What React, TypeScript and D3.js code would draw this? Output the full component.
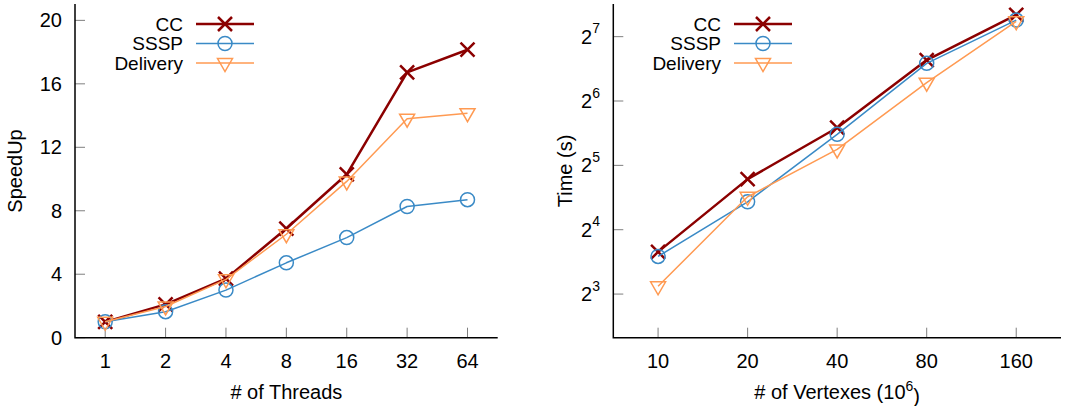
import { useEffect, useRef } from 'react'
import * as d3 from 'd3'

const WIDTH = 1067
const HEIGHT = 406
const FONT = '"Liberation Sans", Arial, Helvetica, sans-serif'

// left panel: speedup vs threads
const threads = ['1', '2', '4', '8', '16', '32', '64']
const ccSpeedup = [1.0, 2.1, 3.72, 6.88, 10.3, 16.72, 18.15]
const ssspSpeedup = [1.0, 1.64, 3.0, 4.72, 6.31, 8.27, 8.7]
const deliverySpeedup = [1.0, 1.97, 3.68, 6.52, 9.85, 13.8, 14.15]
const speedupTicks = [0, 4, 8, 12, 16, 20]

// right panel: time vs vertexes (log2 axis)
const vertexes = ['10', '20', '40', '80', '160']
const ccTime = [12.6, 27.6, 48, 99.5, 162]
const ssspTime = [12.0, 21.6, 44.7, 96, 153]
const deliveryTime = [8.7, 22.8, 38, 78, 151]
const timeExponents = [3, 4, 5, 6, 7]

const seriesNames = ['CC', 'SSSP', 'Delivery']
const seriesColors = ['#8b0000', '#3a8ac6', '#ff9a52']
const seriesWidths = [2.5, 1.5, 1.5]
const seriesMarkers = ['x', 'circle', 'triangle']

const PLOT_TOP = 4
const PLOT_BOTTOM = 337.7
const TICK_LEN = 10

function drawMarker(g, kind, x, y, color, width) {
  if (kind === 'x') {
    g.append('path')
      .attr('d', `M${x - 7},${y - 7}L${x + 7},${y + 7}M${x - 7},${y + 7}L${x + 7},${y - 7}`)
      .attr('stroke', color)
      .attr('stroke-width', width)
      .attr('fill', 'none')
  } else if (kind === 'circle') {
    g.append('circle')
      .attr('cx', x).attr('cy', y).attr('r', 7)
      .attr('stroke', color)
      .attr('stroke-width', width)
      .attr('fill', 'none')
  } else {
    g.append('path')
      .attr('d', `M${x - 7.5},${y - 4.5}L${x + 7.5},${y - 4.5}L${x},${y + 8.5}Z`)
      .attr('stroke', color)
      .attr('stroke-width', width)
      .attr('fill', 'none')
  }
}

function drawPanel(svg, opts) {
  const { left, right, cats, values, y, yTicks, yTickLabel, xTitle, yTitle, yTitleX, legendTextX } = opts
  const g = svg.append('g')

  const x = d3.scalePoint().domain(cats).range([left, right]).padding(0.5)

  // ticks (inward, grey)
  yTicks.forEach(t => {
    g.append('line')
      .attr('x1', left).attr('x2', left + TICK_LEN)
      .attr('y1', y(t)).attr('y2', y(t))
      .attr('stroke', '#7f7f7f').attr('stroke-width', 1)
    yTickLabel(g.append('text')
      .attr('x', left - 13)
      .attr('y', y(t))
      .attr('dy', '0.35em')
      .attr('text-anchor', 'end'), t)
  })
  cats.forEach(c => {
    g.append('line')
      .attr('x1', x(c)).attr('x2', x(c))
      .attr('y1', PLOT_BOTTOM).attr('y2', PLOT_BOTTOM - TICK_LEN)
      .attr('stroke', '#7f7f7f').attr('stroke-width', 1)
    g.append('text')
      .attr('x', x(c))
      .attr('y', 360.5)
      .attr('dy', '0.35em')
      .attr('text-anchor', 'middle')
      .text(c)
  })

  // axes (left + bottom only)
  g.append('path')
    .attr('d', `M${left},${PLOT_TOP}L${left},${PLOT_BOTTOM}L${right},${PLOT_BOTTOM}`)
    .attr('stroke', '#000').attr('stroke-width', 1.5).attr('fill', 'none')

  // titles
  xTitle(g.append('text')
    .attr('x', (left + right) / 2)
    .attr('y', 392)
    .attr('dy', '0.35em')
    .attr('text-anchor', 'middle'))
  g.append('text')
    .attr('transform', `translate(${yTitleX},171) rotate(-90)`)
    .attr('dy', '0.35em')
    .attr('text-anchor', 'middle')
    .text(yTitle)

  // series
  const line = d3.line().x((d, i) => x(cats[i])).y(d => y(d))
  values.forEach((vals, s) => {
    g.append('path')
      .attr('d', line(vals))
      .attr('stroke', seriesColors[s])
      .attr('stroke-width', seriesWidths[s])
      .attr('stroke-linejoin', 'round')
      .attr('fill', 'none')
    vals.forEach((v, i) => drawMarker(g, seriesMarkers[s], x(cats[i]), y(v), seriesColors[s], seriesWidths[s]))
  })

  // legend
  const rowY = [24, 43.5, 63]
  seriesNames.forEach((name, s) => {
    g.append('text')
      .attr('x', legendTextX)
      .attr('y', rowY[s])
      .attr('dy', '0.35em')
      .attr('font-size', 19)
      .attr('text-anchor', 'end')
      .text(name)
    g.append('line')
      .attr('x1', legendTextX + 13).attr('x2', legendTextX + 71)
      .attr('y1', rowY[s]).attr('y2', rowY[s])
      .attr('stroke', seriesColors[s])
      .attr('stroke-width', seriesWidths[s])
    drawMarker(g, seriesMarkers[s], legendTextX + 42, rowY[s], seriesColors[s], seriesWidths[s])
  })
}

export default function App() {
  const svgRef = useRef(null)

  useEffect(() => {
    if (!svgRef.current) return
    document.body.style.margin = '0'

    const svg = d3.select(svgRef.current)
    svg.selectAll('*').remove()
    svg.append('rect').attr('width', WIDTH).attr('height', HEIGHT).attr('fill', '#fff')

    const ySpeed = d3.scaleLinear().domain([0, 21]).range([PLOT_BOTTOM, PLOT_TOP + 0.5])
    drawPanel(svg, {
      left: 75,
      right: 497.7,
      cats: threads,
      values: [ccSpeedup, ssspSpeedup, deliverySpeedup],
      y: ySpeed,
      yTicks: speedupTicks,
      yTickLabel: (t, v) => t.text(v),
      xTitle: t => t.text('# of Threads'),
      yTitle: 'SpeedUp',
      yTitleX: 15,
      legendTextX: 183,
    })

    const yTime = d3.scaleLog().base(2).domain([5, 181]).range([PLOT_BOTTOM, PLOT_TOP + 0.5])
    drawPanel(svg, {
      left: 613.3,
      right: 1061,
      cats: vertexes,
      values: [ccTime, ssspTime, deliveryTime],
      y: yTime,
      yTicks: timeExponents.map(e => Math.pow(2, e)),
      yTickLabel: (t, v) => {
        t.attr('x', 600)
        t.append('tspan').text('2')
        t.append('tspan')
          .attr('dy', '-0.75em')
          .attr('font-size', 14)
          .text(String(Math.round(Math.log2(v))))
      },
      xTitle: t => {
        t.append('tspan').text('# of Vertexes (10')
        t.append('tspan').attr('dy', '-0.6em').attr('font-size', 14).text('6')
        t.append('tspan').attr('dy', '0.6em').text(')')
      },
      yTitle: 'Time (s)',
      yTitleX: 565,
      legendTextX: 721,
    })
  }, [])

  return (
    <svg
      ref={svgRef}
      width={WIDTH}
      height={HEIGHT}
      style={{ display: 'block', fontFamily: FONT, fontSize: 20, position: 'absolute', left: 0, top: 0 }}
    />
  )
}
